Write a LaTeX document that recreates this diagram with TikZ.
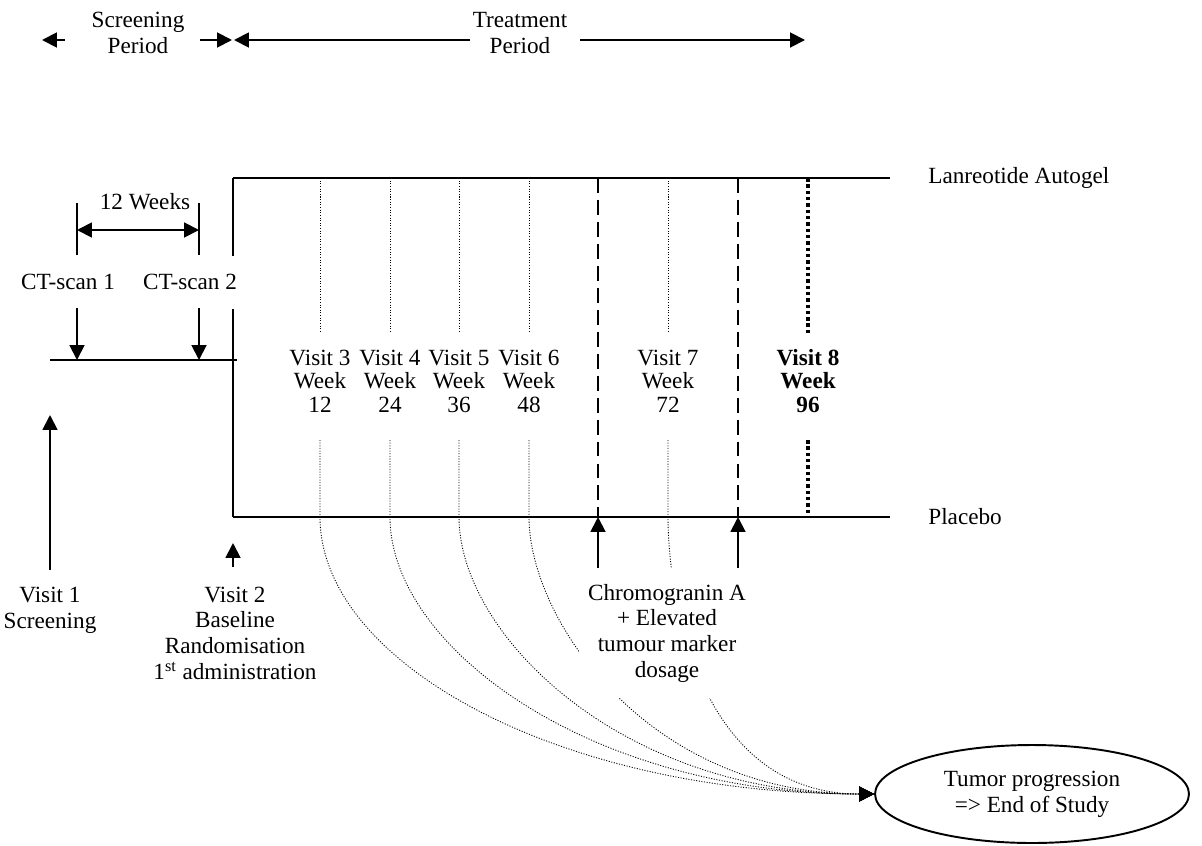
\documentclass[tikz,border=0pt]{standalone}
\usepackage{fontspec}
\setmainfont{Liberation Serif}
\usetikzlibrary{arrows.meta,shapes.geometric,calc}
\begin{document}
\begin{tikzpicture}[x=0.02cm,y=-0.02cm,
  txt/.style={font=\fontsize{13.2}{14.6}\selectfont, align=center, inner sep=0pt},
  vtxt/.style={font=\fontsize{13.2}{13.4}\selectfont, align=center, inner sep=0pt},
  solidline/.style={line width=1.1pt},
  tip/.style={-{Triangle[length=8.5pt,width=8.5pt]}},
  dtip/.style={{Triangle[length=8.5pt,width=8.5pt]}-{Triangle[length=8.5pt,width=8.5pt]}},
  thindot/.style={line width=0.5pt, dash pattern=on 0.6pt off 0.9pt},
  bolddot/.style={line width=2.3pt, dash pattern=on 2pt off 1.6pt},
  longdash/.style={line width=1.2pt, dash pattern=on 8.5pt off 4pt},
]
\useasboundingbox (0,0) rectangle (1202,845);

% ---------- header ----------
\node[txt] (scr) at (138,33) {Screening\\Period};
\node[txt] (trt) at (520,33) {Treatment\\Period};
\coordinate (h1a) at (65,40);  \coordinate (h1b) at (42,40);
\coordinate (h2a) at (200,40); \coordinate (h2b) at (232,40);
\coordinate (h3a) at (470,40); \coordinate (h3b) at (234,40);
\coordinate (h4a) at (580,40); \coordinate (h4b) at (805,40);
\draw[solidline,tip] (h1a) -- (h1b);
\draw[solidline,tip] (h2a) -- (h2b);
\draw[solidline,tip] (h3a) -- (h3b);
\draw[solidline,tip] (h4a) -- (h4b);

% ---------- treatment frame ----------
\coordinate (TL) at (233,178); \coordinate (TR) at (890,178);
\coordinate (BL) at (233,517); \coordinate (BR) at (890,517);
\draw[solidline] (TL) -- (TR);
\draw[solidline] (BL) -- (BR);
\draw[solidline] (TL) -- (BL);
\node[txt,anchor=west] (lan) at (928,178) {Lanreotide Autogel};
\node[txt,anchor=west] (pla) at (928,517) {Placebo};

% ---------- screening ----------
\coordinate (S0) at (50,360); \coordinate (S1) at (237,360);
\draw[solidline] (S0) -- (S1);
\coordinate (k1t) at (77,203);  \coordinate (k1b) at (77,255);
\coordinate (k2t) at (199,203); \coordinate (k2b) at (199,255);
\draw[solidline] (k1t) -- (k1b);
\draw[solidline] (k2t) -- (k2b);
\coordinate (w1) at (77,230); \coordinate (w2) at (199,230);
\draw[solidline,dtip] (w1) -- (w2);
\node[txt] (wk) at (145,202) {12 Weeks};
\node[txt] (ct1) at (68,282) {CT-scan 1};
\node[txt,fill=white,inner xsep=2pt,minimum height=1.06cm] (ct2) at (190,282) {CT-scan 2};
\coordinate (c1t) at (77,308);  \coordinate (c1b) at (77,360);
\coordinate (c2t) at (199,308); \coordinate (c2b) at (199,360);
\draw[solidline,tip] (c1t) -- (c1b);
\draw[solidline,tip] (c2t) -- (c2b);

% ---------- visits 1 and 2 ----------
\node[txt] (vis1) at (50,610) {Visit 1\\Screening};
\coordinate (a1s) at (50,570); \coordinate (a1e) at (50,415);
\draw[solidline,tip] (a1s) -- (a1e);
\node[txt] (vis2) at (235,633) {Visit 2\\Baseline\\Randomisation\\1\textsuperscript{st} administration};
\coordinate (a2s) at (233,567); \coordinate (a2e) at (233,543);
\draw[solidline,tip] (a2s) -- (a2e);

% ---------- ellipse ----------
\node[ellipse,draw,line width=1.1pt,minimum width=6.28cm,minimum height=1.96cm,txt] (end) at (1032,794) {Tumor progression\\=> End of Study};

% ---------- visits 3 to 7 ----------
\foreach \x/\n/\w in {320/3/12,390/4/24,459/5/36,529/6/48,668/7/72} {
  \coordinate (vt\n) at (\x,178);
  \coordinate (vg\n) at (\x,333);
  \coordinate (vh\n) at (\x,440);
  \coordinate (vb\n) at (\x,517);
  \node[vtxt] (v\n) at (\x,381) {Visit \n\\Week\\\w};
  \draw[thindot] (vt\n) -- (vg\n);
  \draw[thindot,tip] (vh\n) -- (vb\n) to[out=-90,in=180,out looseness=0.6,in looseness=1.3] (end.west);
}

% ---------- visit 8 ----------
\coordinate (v8t) at (808,178); \coordinate (v8g) at (808,333);
\coordinate (v8h) at (808,440); \coordinate (v8b) at (808,517);
\node[vtxt,font=\fontsize{13.2}{13.4}\selectfont\bfseries] (v8) at (808,381) {Visit 8\\Week\\96};
\draw[bolddot] (v8t) -- (v8g);
\draw[bolddot] (v8h) -- (v8b);

% ---------- dashed markers ----------
\coordinate (d1t) at (598,178); \coordinate (d1b) at (598,517);
\coordinate (d2t) at (738,178); \coordinate (d2b) at (738,517);
\draw[longdash] (d1t) -- (d1b);
\draw[longdash] (d2t) -- (d2b);

\node[txt,fill=white,minimum width=3.54cm,minimum height=2.6cm] (chr) at (667,633) {Chromogranin A\\+ Elevated\\tumour marker\\dosage};
\draw[solidline,tip] (chr.north -| d1b) -- (d1b);
\draw[solidline,tip] (chr.north -| d2b) -- (d2b);
\end{tikzpicture}
\end{document}
